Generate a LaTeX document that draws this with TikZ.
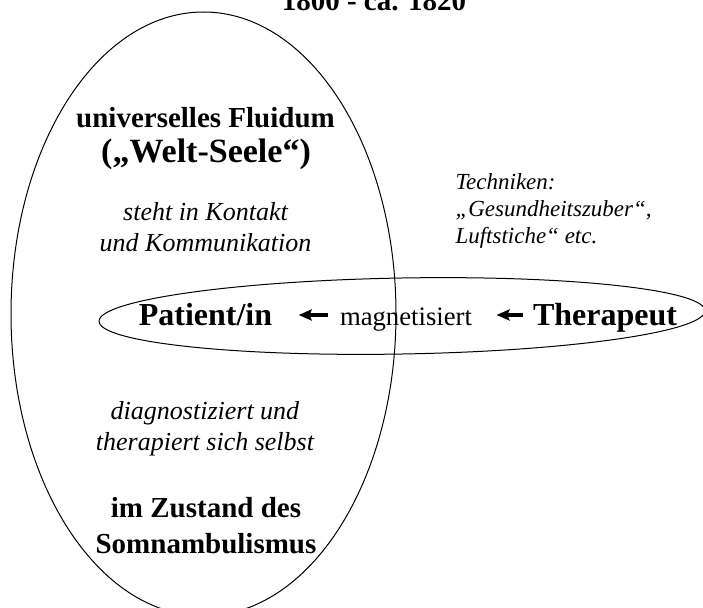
\documentclass[tikz,border=0pt]{standalone}
\usepackage{fontspec}
\setmainfont{Liberation Serif}
\usetikzlibrary{arrows.meta}
\tikzset{
	fett/.style={font=\bfseries\fontsize{29}{36}\selectfont,inner sep=0pt,align=center,anchor=base},
	gross/.style={font=\bfseries\fontsize{32}{38}\selectfont,inner sep=0pt,anchor=base},
	kursiv/.style={font=\itshape\fontsize{26}{31}\selectfont,inner sep=0pt,align=center,anchor=base},
	pfeil/.style={line width=3.4pt,-{Stealth[length=13pt,width=11pt,inset=2pt]},shorten <=12pt,shorten >=26pt}
}
\begin{document}
\begin{tikzpicture}[x=1pt,y=-1pt,line width=1pt]
	\useasboundingbox (0,0) rectangle (703,607);
	\draw (203.5,314) ellipse [x radius=192.5,y radius=302];
	\draw[rotate around={1:(402,316)}] (402,316) ellipse [x radius=303,y radius=38];
	\node[fett] (titel) at (374,11) {1800 - ca. 1820};
	\node[fett] (fluid) at (205.5,127) {universelles Fluidum};
	\node[fett,font=\bfseries\fontsize{34}{40}\selectfont] (seele) at (206,162) {(„Welt-Seele“)};
	\node[kursiv] (kontakt) at (205.5,251) {steht in Kontakt\\und Kommunikation};
	\node[kursiv,font=\itshape\fontsize{23}{27}\selectfont,align=left,anchor=base west] (technik) at (455,243) {Techniken:\\„Gesundheitszuber“,\\Luftstiche“ etc.};
	\node[gross] (patient) at (205.5,325) {Patient/in};
	\node[inner sep=0pt,anchor=base,font=\fontsize{26.7}{31}\selectfont] (magn) at (406,325) {magnetisiert};
	\node[gross] (therapeut) at (605,325) {Therapeut};
	\node[kursiv] (diagnose) at (205,450) {diagnostiziert und\\therapiert sich selbst};
	\node[fett] (zustand) at (206,553) {im Zustand des\\Somnambulismus};
	\draw[pfeil] ([yshift=10pt]magn.base west) -- ([yshift=10pt]patient.base east);
	\draw[pfeil,shorten <=10pt,shorten >=24pt] ([yshift=10pt]therapeut.base west) -- ([yshift=10pt]magn.base east);
\end{tikzpicture}
\end{document}
